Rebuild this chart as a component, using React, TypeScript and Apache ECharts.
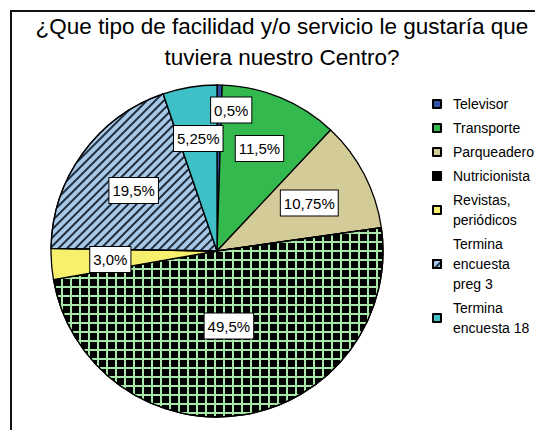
import React, { useEffect, useRef } from "react";
import * as echarts from "echarts";

const categories = [
  "Televisor",
  "Transporte",
  "Parqueadero",
  "Nutricionista",
  "Revistas,\nperiódicos",
  "Termina\nencuesta\npreg 3",
  "Termina\nencuesta 18",
];
const percentages = [0.5, 11.5, 10.75, 49.5, 3.0, 19.5, 5.25];
const titleText = "¿Que tipo de facilidad y/o servicio le gustaría que\ntuviera nuestro Centro?";

const colors = ["#3352a8", "#33b94e", "#d4cc98", "#a8e8a8", "#f6f06c", "#a8c8e8", "#3fbfc6"];
const labelDist = [141, 111, 104, 76, 107, 103, 114];
const labelShiftX = [12, 0, 0, 0, 0, 0, 0];

const CX = 217;
const CY = 251;
const R = 166;
const FONT = "'Liberation Sans', Arial, sans-serif";

function fmt(v: number): string {
  const s = Number.isInteger(v * 10) ? v.toFixed(1) : v.toFixed(2);
  return s.replace(".", ",") + "%";
}

export default function App() {
  const ref = useRef<HTMLDivElement>(null);
  useEffect(() => {
    document.body.style.margin = "0";
    if (!ref.current) return;
    const chart = echarts.init(ref.current, null, { renderer: "svg" });
    const total = percentages.reduce((a, b) => a + b, 0);
    const cum: number[] = [];
    let acc = 0;
    percentages.forEach((v) => {
      cum.push(acc + v / 2);
      acc += v;
    });

    const decals: any[] = [
      null,
      null,
      null,
      {
        symbol: "rect",
        symbolSize: 1,
        color: "#000",
        dashArrayX: [6.8, 1.2],
        dashArrayY: [6.8, 1.2],
      },
      null,
      {
        symbol: "rect",
        symbolSize: 1,
        color: "#1f2e3e",
        dashArrayX: [1, 0],
        dashArrayY: [1.6, 3.4],
        rotation: -Math.PI / 4,
      },
      null,
    ];

    chart.setOption({
      animation: false,
      textStyle: { fontFamily: FONT },
      title: {
        text: titleText,
        left: 277,
        top: 6,
        textAlign: "center",
        textStyle: {
          fontFamily: FONT,
          fontSize: 22.5,
          fontWeight: "normal",
          lineHeight: 31,
          color: "#000",
        },
      },
      graphic: [
        {
          type: "rect",
          shape: { x: 11, y: 11, width: 700, height: 600 },
          style: { fill: "none", stroke: "#111", lineWidth: 2 },
          silent: true,
        },
      ],
      legend: {
        orient: "vertical",
        left: 427,
        top: 89,
        itemWidth: 8,
        itemHeight: 8,
        itemGap: 4,
        icon: "rect",
        selectedMode: false,
        textStyle: {
          fontFamily: FONT,
          fontSize: 14,
          lineHeight: 20,
          color: "#000",
          padding: [0, 0, 0, 7],
        },
        data: categories,
      },
      series: [
        {
          type: "pie",
          center: [CX, CY],
          radius: R,
          startAngle: 90,
          clockwise: true,
          avoidLabelOverlap: false,
          emphasis: { disabled: true },
          itemStyle: { borderColor: "#000", borderWidth: 1.3 },
          labelLine: { show: false },
          label: {
            show: true,
            position: "inside",
            color: "#000",
            fontFamily: FONT,
            fontSize: 15,
            lineHeight: 17,
            backgroundColor: "#fff",
            borderColor: "#000",
            borderWidth: 1,
            padding: [4, 3, 4, 3],
            formatter: (p: any) => fmt(p.value),
          },
          labelLayout: (p: any) => {
            const i = p.dataIndex;
            const ang = (90 - (cum[i] / total) * 360) * (Math.PI / 180);
            return {
              x: CX + labelDist[i] * Math.cos(ang) + labelShiftX[i],
              y: CY - labelDist[i] * Math.sin(ang),
              align: "center",
              verticalAlign: "middle",
            };
          },
          data: categories.map((name, i) => ({
            name,
            value: percentages[i],
            itemStyle: decals[i]
              ? { color: colors[i], decal: decals[i] }
              : { color: colors[i] },
          })),
        },
      ],
    });
    return () => chart.dispose();
  }, []);
  return <div ref={ref} style={{ width: 535, height: 430 }} />;
}
